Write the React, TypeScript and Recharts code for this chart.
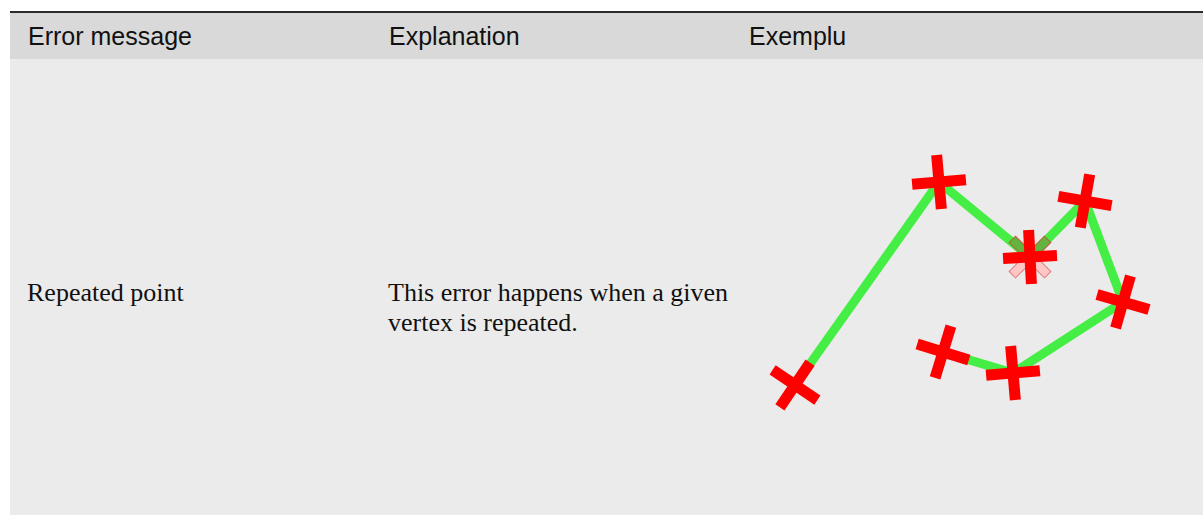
import { LineChart, Line, XAxis, YAxis } from "recharts";

// vertices of the example geometry, in drawing order (x right, y up)
const vertexX = [1.75, 8.95, 13.5, 16.25, 18.15, 12.65, 9.15];
const vertexY = [0.75, 10.9, 7.15, 9.95, 4.9, 1.35, 2.4];
// tilt of each red cross marker, degrees
const markerTilt = [34, -5, -3, 10, 16, -5, 17];
// index of the vertex that is repeated
const repeatedIndex = 2;

const headers = ["Error message", "Explanation", "Exemplu"];
const errorName = "Repeated point";
const explanation = ["This error happens when a given", "vertex is repeated."];

const points = vertexX.map((x, i) => ({ x, y: vertexY[i] }));

const sans = '"Liberation Sans", Arial, sans-serif';
const serif = '"Liberation Serif", "Times New Roman", serif';

function RepeatedMark() {
  const arms = [-135, -45, 45, 135];
  return (
    <g>
      {arms.map((a) => {
        const upper = a < 0;
        return (
          <rect
            key={a}
            x={0}
            y={-4.5}
            width={25}
            height={9}
            transform={`rotate(${a})`}
            fill={upper ? "#62b43e" : "#ffc6c6"}
            stroke={upper ? "#c05a3a" : "#e07878"}
            strokeWidth={1}
          />
        );
      })}
    </g>
  );
}

function CrossDot(props: any) {
  const { cx, cy, index } = props;
  if (cx == null || cy == null) return <g key={`d${index}`} />;
  return (
    <g key={`d${index}`} transform={`translate(${cx},${cy})`}>
      {index === repeatedIndex && <RepeatedMark />}
      <g transform={`rotate(${markerTilt[index]})`}>
        <rect x={-27} y={-5.5} width={54} height={11} fill="#ff0000" />
        <rect x={-5.5} y={-27} width={11} height={54} fill="#ff0000" />
      </g>
    </g>
  );
}

const headerX = [28, 389, 749];

export default function App() {
  return (
    <div style={{ position: "absolute", left: 0, top: 0, width: 1203, height: 515, background: "#fff", overflow: "hidden" }}>
      {/* header row */}
      <div
        style={{
          position: "absolute",
          left: 10,
          top: 11,
          width: 1193,
          height: 46,
          background: "#d9d9d9",
          borderTop: "2px solid #2a2a2a",
          borderBottom: "1px solid #2a2a2a",
        }}
      />
      {/* body row */}
      <div style={{ position: "absolute", left: 10, top: 59, width: 1193, height: 456, background: "#ebebeb" }} />

      {headers.map((h, i) => (
        <div
          key={h}
          style={{
            position: "absolute",
            left: headerX[i],
            top: 21,
            fontFamily: sans,
            fontSize: 25,
            lineHeight: "30px",
            color: "#111",
            whiteSpace: "nowrap",
          }}
        >
          {h}
        </div>
      ))}

      <div
        style={{
          position: "absolute",
          left: 27,
          top: 278,
          fontFamily: serif,
          fontSize: 26,
          lineHeight: "30px",
          color: "#111",
          whiteSpace: "nowrap",
        }}
      >
        {errorName}
      </div>
      <div
        style={{
          position: "absolute",
          left: 388,
          top: 278,
          fontFamily: serif,
          fontSize: 26,
          lineHeight: "30px",
          color: "#111",
          whiteSpace: "nowrap",
        }}
      >
        {explanation.map((l) => (
          <div key={l}>{l}</div>
        ))}
      </div>

      <div style={{ position: "absolute", left: 740, top: 60 }}>
        <LineChart width={463} height={455} data={points} margin={{ top: 100, right: 43, bottom: 115, left: 20 }}>
          <XAxis type="number" dataKey="x" domain={[0, 20]} hide />
          <YAxis type="number" dataKey="y" domain={[0, 12]} hide />
          <Line
            type="linear"
            dataKey="y"
            stroke="#44ee44"
            strokeWidth={9}
            dot={CrossDot}
            activeDot={false}
            isAnimationActive={false}
          />
        </LineChart>
      </div>
    </div>
  );
}
